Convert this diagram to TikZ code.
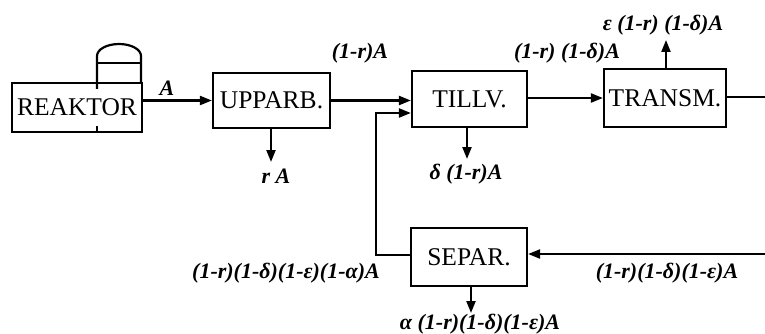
\documentclass[tikz,border=0pt]{standalone}
\usepackage{fontspec}
\setmainfont{Liberation Serif}
\usetikzlibrary{arrows.meta}
\tikzset{
  unit/.style={draw, line width=2.2pt, inner sep=0pt, font=\fontsize{25.5}{28}\selectfont},
  flow/.style={line width=2.2pt, -{Triangle[length=12pt,width=9pt]}},
  pipe/.style={line width=2.2pt},
  qty/.style={font=\fontsize{22}{24}\selectfont\bfseries\itshape, inner sep=1pt}
}
\begin{document}
\begin{tikzpicture}[x=1pt, y=-1pt]
\useasboundingbox (0,0) rectangle (765,334);
% units
\node[unit, minimum width=130pt, minimum height=49pt] (reaktor) at (77,107.5) {REAKTOR};
\node[unit, minimum width=117pt, minimum height=55pt] (upparb) at (271.5,100.5) {UPPARB.};
\node[unit, minimum width=115pt, minimum height=56pt] (tillv) at (469.5,99) {TILLV.};
\node[unit, minimum width=122pt, minimum height=58pt] (transm) at (665,98) {TRANSM.};
\node[unit, minimum width=116pt, minimum height=58pt] (separ) at (469,257) {SEPAR.};
% reactor vessel with dome
\draw[pipe] (97,89) -- (97,56) arc[start angle=180, end angle=360, x radius=22, y radius=12] -- (141,84);
\draw[pipe] (97,63) -- (141,63);
\draw[pipe] (97,132) -- (97,126);
% free ends
\coordinate (rA) at (271,162);
\coordinate (dA) at (467,159);
\coordinate (eA) at (666,40);
\coordinate (aA) at (471,313);
\coordinate (outR) at (765,97);
\coordinate (inR) at (765,254);
\coordinate (bend) at (376,255);
% flows
\draw[flow] (reaktor.east |- upparb.west) -- (upparb.west);
\draw[flow] (upparb.east) -- (upparb.east -| tillv.west);
\draw[flow] (tillv.east |- transm.west) -- (transm.west);
\draw[pipe] (transm.east |- outR) -- (outR);
\draw[flow] (inR) -- (inR -| separ.east);
\draw[flow] (separ.west |- bend) -- (bend) -- (376,113) -- (tillv.west |- 0,113);
\draw[flow] (upparb.south -| rA) -- (rA);
\draw[flow] (tillv.south -| dA) -- (dA);
\draw[flow] (transm.north -| eA) -- (eA);
\draw[flow] (separ.south -| aA) -- (aA);
% quantities
\node[qty] (qA) at (167,88) {A};
\node[qty] (q1) at (360,53) {(1-r)A};
\node[qty] (q2) at (567,53) {(1-r) (1-δ)A};
\node[qty] (q3) at (663,25) {ε (1-r) (1-δ)A};
\node[qty] (q4) at (276,176) {r A};
\node[qty] (q5) at (466,174) {δ (1-r)A};
\node[qty] (q6) at (286,273) {(1-r)(1-δ)(1-ε)(1-α)A};
\node[qty] (q7) at (667,273) {(1-r)(1-δ)(1-ε)A};
\node[qty] (q8) at (480,324) {α (1-r)(1-δ)(1-ε)A};
\end{tikzpicture}
\end{document}
